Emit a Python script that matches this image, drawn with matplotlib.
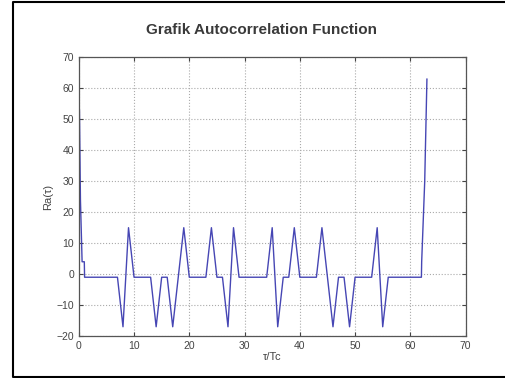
import numpy as np
import matplotlib
matplotlib.use("Agg")
import matplotlib.pyplot as plt
from matplotlib.lines import Line2D

# lag (tau/Tc) and autocorrelation values
tau = [0.12, 0.3, 0.6, 1.0, 1.05, 7, 8, 9, 10, 13, 14, 15, 16, 17, 18, 19, 20,
       23, 24, 25, 26, 27, 28, 29, 34, 35, 36, 37, 38, 39, 40, 43, 44, 45,
       46, 47, 48, 49, 50, 53, 54, 55, 56, 62, 62.05, 62.6, 63]
Ra = [53, 24, 4, 4, -1, -1, -17, 15, -1, -1, -17, -1, -1, -17, -1, 15, -1,
      -1, 15, -1, -1, -17, 15, -1, -1, 15, -17, -1, -1, 15, -1, -1, 15, -1,
      -17, -1, -1, -17, -1, -1, 15, -17, -1, -1, 4, 30, 63]

xticks = np.arange(0, 71, 10)
yticks = np.arange(-20, 71, 10)

plt.rcParams['font.family'] = ['Liberation Sans', 'DejaVu Sans']

fig = plt.figure(figsize=(5.05, 3.78), dpi=100)
ax = fig.add_axes([0.156, 0.111, 0.766, 0.737])

ax.plot(tau, Ra, color='#4646b4', lw=1.0)

ax.set_xlim(0, 70)
ax.set_ylim(-20, 70)
ax.set_xticks(xticks)
ax.set_yticks(yticks)
ax.tick_params(direction='in', top=True, right=True, labelsize=7.5,
               colors='#444444', length=3)
ax.grid(True, linestyle=':', color='#aaaaaa', lw=0.8)
for s in ax.spines.values():
    s.set_color('#555555')
    s.set_linewidth(0.9)

ax.set_xlabel('τ/Tc', fontsize=8, color='#444444', labelpad=1)
ax.set_ylabel('Ra(τ)', fontsize=8, color='#444444', labelpad=2)
fig.text(262 / 505, 1 - 30 / 378, 'Grafik Autocorrelation Function',
         ha='center', va='center', fontsize=11, fontweight='bold',
         color='#3a3a3a')

# black frame on left, top and bottom of the picture
x0, y0, y1 = 12.5 / 505, 1.5 / 378, 1 - 2 / 378
fig.lines.append(Line2D([1, x0, x0, 1], [y1, y1, y0, y0],
                        transform=fig.transFigure, color='black', lw=1.5))

fig.savefig('out.png', dpi=100)
